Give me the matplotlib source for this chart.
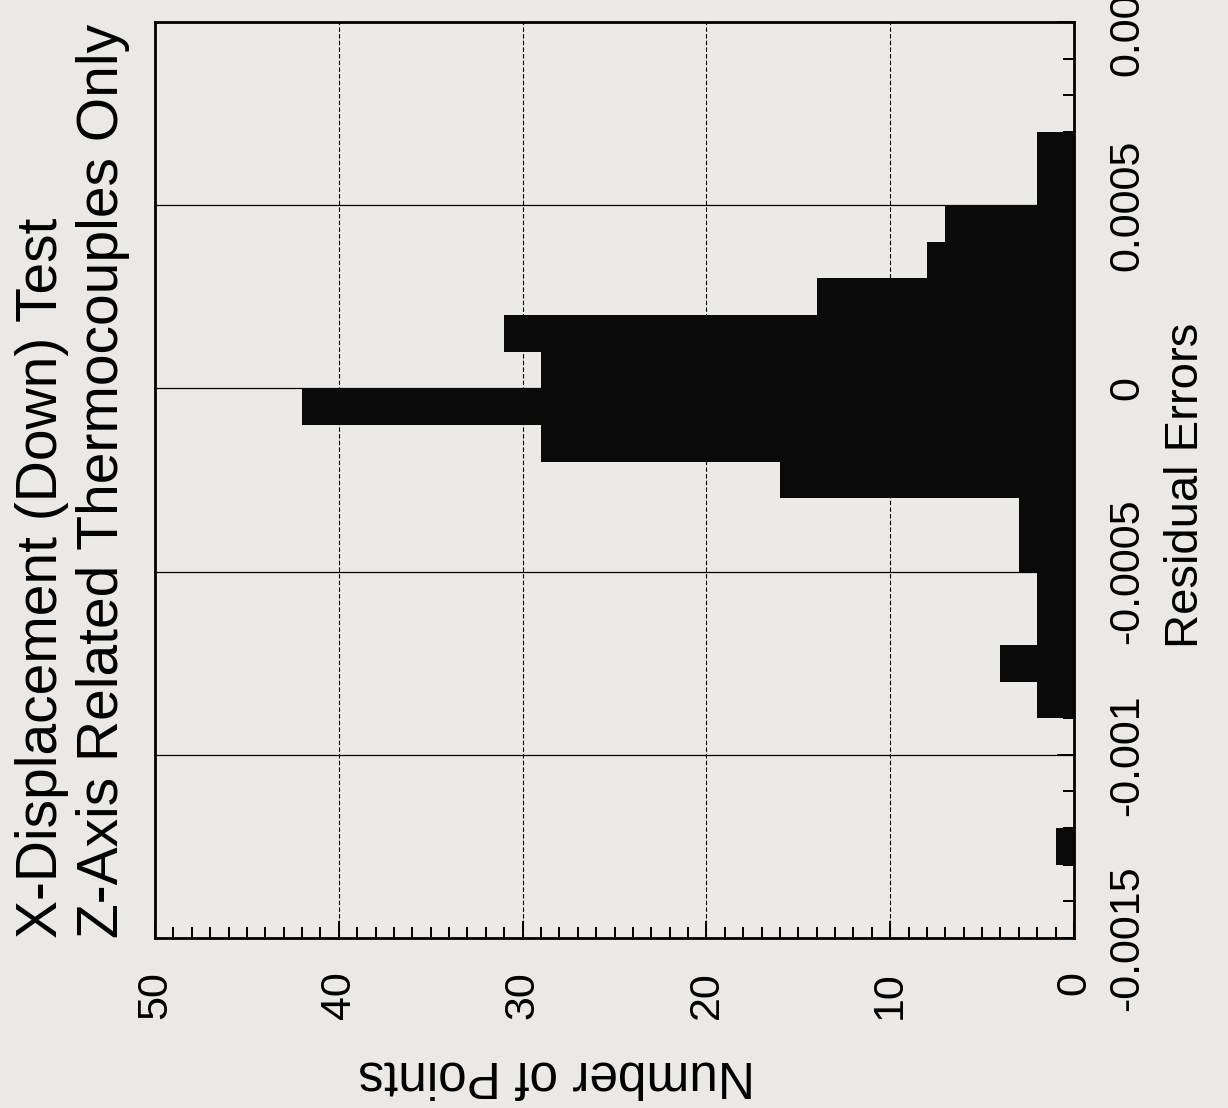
import matplotlib
matplotlib.use('Agg')
import matplotlib.pyplot as plt
from matplotlib.ticker import MultipleLocator

# ---- data (histogram of residual errors) ----
bin_lower = [-0.0013, -0.0009, -0.0008, -0.0007, -0.0006, -0.0005, -0.0004,
             -0.0003, -0.0002, -0.0001, 0.0, 0.0001, 0.0002, 0.0003, 0.0004,
             0.0005, 0.0006]
counts = [1, 2, 4, 2, 2, 3, 3, 16, 29, 42, 29, 31, 14, 8, 7, 2, 2]
bin_width = 0.0001

residual_ticks = [-0.0015, -0.001, -0.0005, 0.0, 0.0005, 0.001]
residual_labels = ['-0.0015', '-0.001', '-0.0005', '0', '0.0005', '0.001']
count_ticks = [0, 10, 20, 30, 40, 50]
count_labels = ['0', '10', '20', '30', '40', '50']

title_line1 = 'X-Displacement (Down) Test'
title_line2 = 'Z-Axis Related Thermocouples Only'
residual_axis_label = 'Residual Errors'
count_axis_label = 'Number of Points'

plt.rcParams['font.family'] = ['Liberation Sans', 'DejaVu Sans']

W, H = 1228, 1108
fig = plt.figure(figsize=(W / 100, H / 100), dpi=100)
bg = '#ebe9e6'
fig.patch.set_facecolor(bg)

left, right, top, bottom = 155, 1074, 22, 938
ax = fig.add_axes([left / W, 1 - bottom / H, (right - left) / W, (bottom - top) / H])
ax.set_facecolor('#eceae7')

ax.barh(bin_lower, counts, height=bin_width, align='edge', color='#0a0a0a',
        edgecolor='none', zorder=3)

ax.set_xlim(50, 0)
ax.set_ylim(-0.0015, 0.001)

ax.yaxis.tick_right()
ax.set_yticks(residual_ticks)
ax.set_yticklabels(residual_labels, rotation=90, va='center', ha='left')
ax.set_xticks(count_ticks)
ax.set_xticklabels(count_labels, rotation=90, va='top', ha='center')

ax.xaxis.set_minor_locator(MultipleLocator(1))
ax.yaxis.set_minor_locator(MultipleLocator(0.0001))

ax.tick_params(axis='both', which='major', direction='in', length=12, width=1.4,
               labelsize=31, colors='black')
ax.tick_params(axis='both', which='minor', direction='in', length=8, width=1.4)
ax.tick_params(axis='x', which='major', pad=24)
ax.tick_params(axis='y', which='major', pad=24)
ax.tick_params(axis='y', which='both', left=False, right=True)

ax.set_axisbelow(True)
ax.grid(axis='y', which='major', color='black', lw=0.9, ls='-')
ax.grid(axis='x', which='major', color='black', lw=0.8, ls=(0, (4, 2)))

for s in ax.spines.values():
    s.set_linewidth(2)
    s.set_color('black')
    s.set_zorder(4)

# titles (rotated)
fig.text(42 / W, 1 - bottom / H, title_line1, rotation=90, ha='center', va='bottom',
         fontsize=41)
fig.text(103 / W, 1 - bottom / H, title_line2, rotation=90, ha='center', va='bottom',
         fontsize=41)

fig.text(1186 / W, 1 - 485 / H, residual_axis_label, rotation=90, ha='center',
         va='center', fontsize=34)
fig.text(557 / W, 1 - 1075 / H, count_axis_label, rotation=180, ha='center',
         va='center', fontsize=37)

fig.savefig('out.png', dpi=100, facecolor=fig.get_facecolor())
